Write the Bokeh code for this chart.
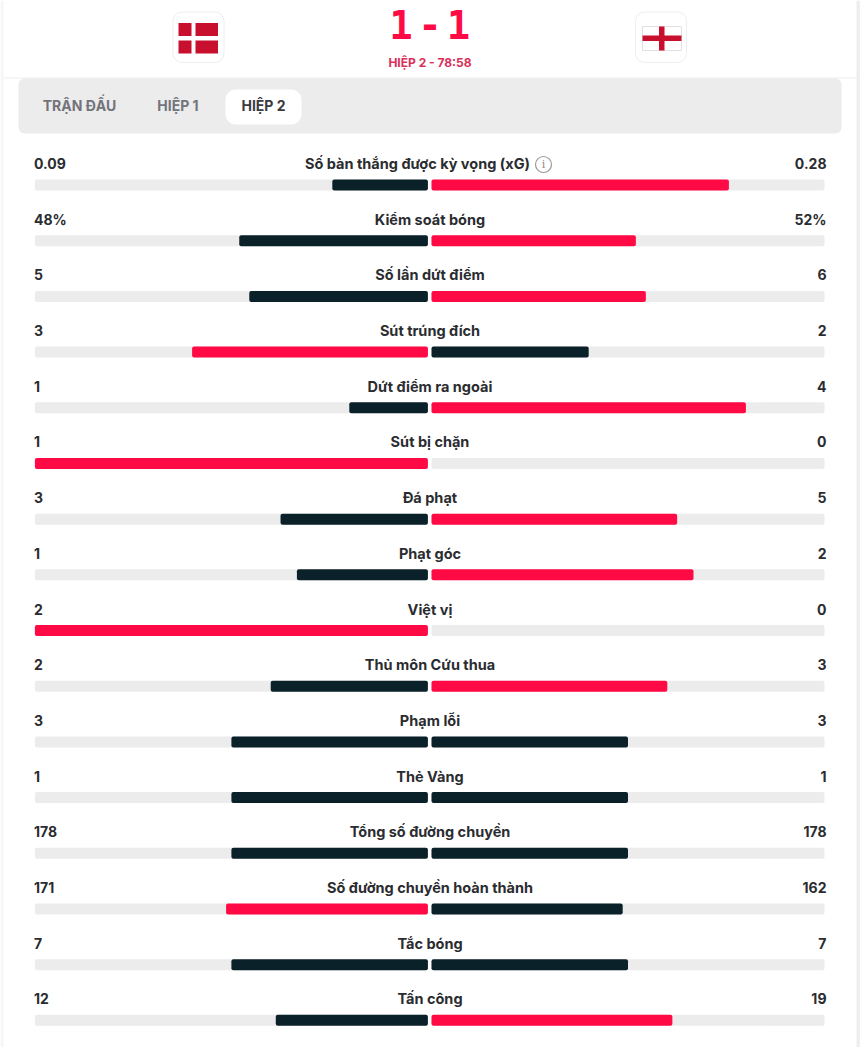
from bokeh.plotting import figure
from bokeh.core.properties import value
from bokeh.models import Range1d
from bokeh.embed import file_html
from bokeh.resources import INLINE

# stats, top to bottom
stat_names = ["Số bàn thắng được kỳ vọng (xG)", "Kiểm soát bóng", "Số lần dứt điểm", "Sút trúng đích",
              "Dứt điểm ra ngoài", "Sút bị chặn", "Đá phạt", "Phạt góc", "Việt vị", "Thủ môn Cứu thua",
              "Phạm lỗi", "Thẻ Vàng", "Tổng số đường chuyền", "Số đường chuyền hoàn thành", "Tắc bóng", "Tấn công"]
home_labels = ["0.09", "48%", "5", "3", "1", "1", "3", "1", "2", "2", "3", "1", "178", "171", "7", "12"]
away_labels = ["0.28", "52%", "6", "2", "4", "0", "5", "2", "0", "3", "3", "1", "178", "162", "7", "19"]
home_vals = [0.09, 48, 5, 3, 1, 1, 3, 1, 2, 2, 3, 1, 178, 171, 7, 12]
away_vals = [0.28, 52, 6, 2, 4, 0, 5, 2, 0, 3, 3, 1, 178, 162, 7, 19]
tabs = ["TRẬN ĐẤU", "HIỆP 1", "HIỆP 2"]

RED = "#ff0a45"
DARK = "#0b2129"
TRACK = "#ececec"
TEXT = "#2a2c30"
FONT = value("Inter")

W, H = 860, 1047
# main ranges are page pixels, the bars use their own share/row ranges
p = figure(width=W, height=H, output_backend="svg", toolbar_location=None, min_border=0,
           x_range=Range1d(0, W), y_range=Range1d(H, 0),
           x_axis_location=None, y_axis_location=None)
p.grid.visible = False
p.outline_line_color = None

MID = 429.2
HALF = 393.0
ROW0 = 163.0
ROW = 55.69
p.extra_x_ranges["share"] = Range1d((0 - MID) / HALF, (W - MID) / HALF)
p.extra_y_ranges["row"] = Range1d((H - ROW0) / ROW, (0 - ROW0) / ROW)

# page edges
p.quad(left=[0, 856], right=[3, W], top=[0, 0], bottom=[H, H], fill_color=["#f6f6f6", "#eeeeee"], line_color=None)

# header
p.quad(left=[3], right=[856], top=[78], bottom=[77], fill_color="#eeeeee", line_color=None)
for x0, x1 in [(172.5, 223.5), (635, 686)]:
    p.quad(left=[x0], right=[x1], top=[11.5], bottom=[62], fill_color="white",
           line_color="#eeeeee", border_radius=9)
# denmark
p.quad(left=[178, 195, 178, 195], right=[191, 217.5, 191, 217.5], top=[22.5, 22.5, 40, 40],
       bottom=[35.5, 35.5, 53, 53], fill_color="#c8102e", line_color=None)
# england
p.quad(left=[642], right=[681], top=[26], bottom=[50], fill_color="white", line_color="#e4dfe2")
p.quad(left=[642, 658.5], right=[681, 664], top=[35, 26], bottom=[40.5, 50], fill_color="#c8102e", line_color=None)
score_kw = dict(text_font=value("DejaVu Sans Mono"), text_font_style="bold", text_font_size="39px",
                text_color=RED, text_align="center", text_baseline="middle")
p.text(x=[400.5, 429.5, 458], y=[24, 24, 24], text=["1", "-", "1"], **score_kw)
p.text(x=[429.5], y=[61.5], text=["HIỆP 2 - 78:58"], text_font=FONT, text_font_style="bold",
       text_font_size="12px", text_color="#d9305a", text_align="center", text_baseline="middle")

# tab bar
p.quad(left=[18], right=[841], top=[78], bottom=[133], fill_color=TRACK, line_color=None, border_radius=6)
p.quad(left=[225], right=[301], top=[89], bottom=[124], fill_color="white", line_color=None, border_radius=10)
p.text(x=[79, 177.5, 263], y=[104.5, 104.5, 104.5], text=tabs, text_font=FONT, text_font_style="bold",
       text_font_size="14px", text_color=["#73737a", "#73737a", "#3a3a40"],
       text_align="center", text_baseline="middle")

rows = list(range(len(stat_names)))
bar_y = [r + 21.5 / ROW for r in rows]
bar_h = 11 / ROW
gap = 1.8 / HALF
share_kw = dict(x_range_name="share", y_range_name="row")
tops = [y - bar_h / 2 for y in bar_y]
bottoms = [y + bar_h / 2 for y in bar_y]

p.quad(left=[-1 - gap] * len(rows), right=[-gap] * len(rows), top=tops, bottom=bottoms,
       fill_color=TRACK, line_color=None, border_radius=2, **share_kw)
p.quad(left=[gap] * len(rows), right=[1 + gap] * len(rows), top=tops, bottom=bottoms,
       fill_color=TRACK, line_color=None, border_radius=2, **share_kw)

home_share = [h / (h + a) for h, a in zip(home_vals, away_vals)]
away_share = [a / (h + a) for h, a in zip(home_vals, away_vals)]
home_color = [RED if h > a else DARK for h, a in zip(home_vals, away_vals)]
away_color = [RED if a > h else DARK for h, a in zip(home_vals, away_vals)]

p.quad(left=[-s - gap for s in home_share], right=[-gap] * len(rows), top=tops, bottom=bottoms,
       fill_color=home_color, line_color=None, border_radius=2, **share_kw)
p.quad(left=[gap] * len(rows), right=[s + gap for s in away_share], top=tops, bottom=bottoms,
       fill_color=away_color, line_color=None, border_radius=2, **share_kw)

text_kw = dict(text_font=FONT, text_font_style="bold", text_color=TEXT, text_baseline="middle", y_range_name="row")
p.text(x=[33.5] * len(rows), y=rows, text=home_labels, text_align="left", text_font_size="14px", **text_kw)
p.text(x=[826] * len(rows), y=rows, text=away_labels, text_align="right", text_font_size="14px", **text_kw)
p.text(x=[429.5] * (len(rows) - 1), y=rows[1:], text=stat_names[1:], text_align="center",
       text_font_size="14.5px", **text_kw)
p.text(x=[417], y=[0], text=stat_names[:1], text_align="center", text_font_size="14.5px", **text_kw)

# info icon next to xG
p.scatter(x=[543], y=[164], size=16, marker="circle", fill_color="white", line_color="#9a9a9a", line_width=1.2)
p.text(x=[543], y=[164], text=["i"], text_font=value("DejaVu Serif"), text_font_size="11px", text_color="#8a8a8a",
       text_align="center", text_baseline="middle")

open("out.html", "w").write(file_html(p, INLINE))
